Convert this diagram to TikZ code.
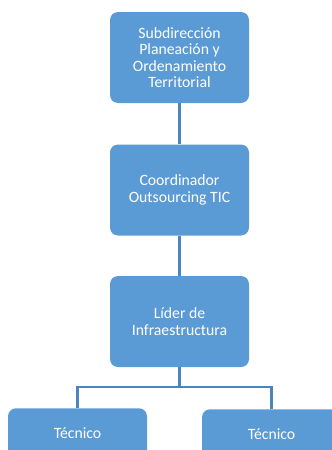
\documentclass[tikz,border=0pt]{standalone}
\usepackage{fontspec}
\setmainfont{Carlito}
\definecolor{boxblue}{HTML}{5B9BD5}
\definecolor{lineblue}{HTML}{4A85C0}
\begin{document}
\begin{tikzpicture}[x=0.75pt,y=-0.75pt,
  box/.style={fill=boxblue, rounded corners=6pt, text=white, align=center,
    font=\fontsize{11.8}{12.2}\selectfont, minimum width=104.25pt, inner sep=0pt},
  tallbox/.style={box, minimum height=68.25pt},
  lowbox/.style={box, minimum height=37.5pt},
  conn/.style={draw=lineblue, line width=2pt}]
\useasboundingbox (0,0) rectangle (332,450);
\clip (0,0) rectangle (332,450);
\node[tallbox] (sub) at (179.5,57.5) {Subdirección\\Planeación y\\Ordenamiento\\Territorial};
\node[tallbox] (coord) at (179.5,190) {Coordinador\\Outsourcing TIC};
\node[tallbox] (lider) at (179.5,321.5) {Líder de\\Infraestructura};
\node[lowbox, anchor=north] (tec1) at (77.5,408) {Técnico};
\node[lowbox, anchor=north] (tec2) at (271.5,409) {Técnico};
\coordinate (j) at (179.5,387);
\draw[conn] (sub) -- (coord);
\draw[conn] (coord) -- (lider);
\draw[conn] (lider.south) -- (j);
\draw[conn] (j) -| (tec1.north);
\draw[conn] (j) -| (tec2.north);
\end{tikzpicture}
\end{document}
